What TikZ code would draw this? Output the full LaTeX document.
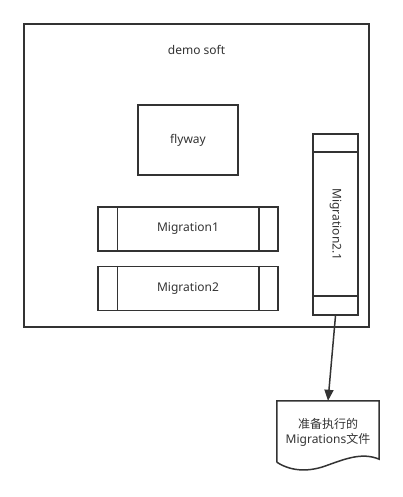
\documentclass[tikz,border=0pt]{standalone}
\usepackage{fontspec}
\setmainfont{Noto Sans}
\newfontfamily\cjk{Noto Sans CJK SC}
\usetikzlibrary{arrows.meta,calc}
\definecolor{ink}{HTML}{333333}
\tikzset{
	box/.style={draw=ink, line width=1.5pt, fill=white, text=ink, font=\fontsize{12}{14}\selectfont},
	migbar/.style={box, minimum width=180pt, minimum height=44pt},
	flow/.style={draw=ink, line width=1.5pt, -{Triangle[length=11pt,width=9pt]}}
}
\begin{document}
\begin{tikzpicture}[x=1pt, y=-1pt]
		\useasboundingbox (0,0) rectangle (403,497);
		\begin{scope}
			% container
			\node[box, line width=2pt, minimum width=345pt, minimum height=303pt] (soft) at (196.5,175.5) {};
			\node[text=ink, font=\fontsize{12}{14}\selectfont] (softlbl) at (196.5,50) {demo soft};
			\node[box, minimum width=100pt, minimum height=70pt] (flyway) at (188,140) {flyway};
			% migrations
			\foreach \y/\name in {229/1, 288.5/2} {
				\node[migbar] (m\name) at (188,\y) {Migration\name};
				\draw[ink, line width=1.5pt] ($(m\name.north west)+(20,0)$) -- ($(m\name.south west)+(20,0)$);
				\draw[ink, line width=1.5pt] ($(m\name.north east)+(-20,0)$) -- ($(m\name.south east)+(-20,0)$);
			}
			\node[box, minimum width=45pt, minimum height=181pt] (m21) at (335.5,224.5) {};
			\node[text=ink, rotate=-90, font=\fontsize{12}{14}\selectfont] (m21lbl) at (m21.center) {Migration2.1};
			\draw[ink, line width=1.5pt] ($(m21.north west)+(0,19)$) -- ($(m21.north east)+(0,19)$);
			\draw[ink, line width=1.5pt] ($(m21.south west)+(0,-20)$) -- ($(m21.south east)+(0,-20)$);
			% pending files
			\node[text=ink, align=center, font=\fontsize{12}{15}\selectfont, minimum width=102pt, minimum height=62pt] (doc) at (328,432) {{\cjk 准备执行的}\\Migrations{\cjk 文件}};
			\draw[ink, line width=1.5pt] ($(doc.south west)+(0,-1)$) -- (doc.north west) -- (doc.north east) -- ($(doc.south east)+(0,-4)$)
				.. controls (362,452) and (345,459) .. (328,465)
				.. controls (310,472) and (292,472) .. ($(doc.south west)+(0,-1)$);
			\draw[flow] (m21.south) -- (doc.north);
		\end{scope}
	\end{tikzpicture}
\end{document}
